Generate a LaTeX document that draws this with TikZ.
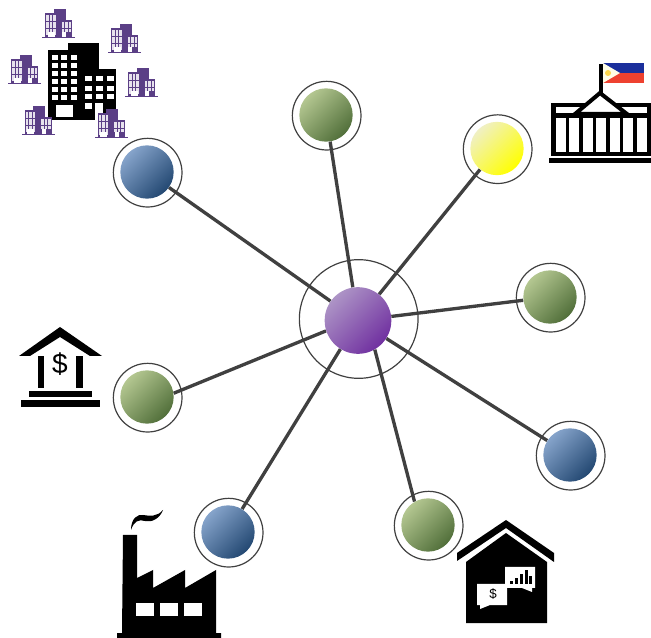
\documentclass[tikz,border=0pt]{standalone}
\usepackage{fontspec}
\setmainfont{Liberation Sans}
\usetikzlibrary{backgrounds}
\definecolor{linegray}{HTML}{404040}
\definecolor{towerpurple}{HTML}{5B3F86}
\definecolor{hublight}{HTML}{AD94C6}
\definecolor{hubdark}{HTML}{7030A0}
\definecolor{bluelight}{HTML}{86A4CB}
\definecolor{bluedark}{HTML}{234872}
\definecolor{greenlight}{HTML}{B4C791}
\definecolor{greendark}{HTML}{516F3A}
\definecolor{yellowlight}{HTML}{F0F0C4}
\definecolor{flagblue}{HTML}{1B2F9C}
\definecolor{flagred}{HTML}{EE4130}
\tikzset{
	hubdisk/.style={circle, inner sep=0pt, minimum size=50pt, top color=hublight, bottom color=hubdark, shading angle=45},
	hubring/.style={circle, inner sep=0pt, minimum size=89pt, draw=linegray, line width=0.9pt},
	peerdisk/.style={circle, inner sep=0pt, minimum size=40pt},
	peerring/.style={circle, inner sep=0pt, minimum size=51.5pt, draw=linegray, line width=0.9pt},
	greendisk/.style={peerdisk, top color=greenlight, bottom color=greendark, shading angle=45},
	bluedisk/.style={peerdisk, top color=bluelight, bottom color=bluedark, shading angle=45},
	yellowdisk/.style={peerdisk, top color=yellowlight, bottom color=yellow, shading angle=45},
	spoke/.style={line width=2.5pt, draw=linegray},
	smalltower/.pic={
		\fill[towerpurple] (-16.5,-1.2) rectangle (16.5,0);
		\fill[towerpurple] (-13.5,-1.2) rectangle (-1,-25);
		\fill[towerpurple] (-5,-1.2) rectangle (7,-29);
		\fill[towerpurple] (1,-1.2) rectangle (13.5,-18);
		\foreach \wx in {-12.5,-9,-5.5}
			\foreach \wy in {-23,-19.5,-16,-12.5,-9,-5.5}
				\fill[white!85!towerpurple] (\wx,\wy) rectangle ++(2.6,2.6);
		\foreach \wx in {3,6.5,10}
			\foreach \wy in {-16,-12.5,-9}
				\fill[white!85!towerpurple] (\wx,\wy) rectangle ++(2.6,2.6);
		\fill[white] (-11,-6) rectangle (-4,-1.2);
		\fill[white] (3.5,-6) rectangle (7.5,-1.2);
	}
}
\begin{document}
\begin{tikzpicture}[x=0.75pt, y=-0.75pt]
	\useasboundingbox (0, 0) rectangle (651, 638);

	%%%%% NETWORK %%%%%
	\node[hubdisk] (hub) at (358, 320.5) {};
	\node[hubring] (hubouter) at (358.7, 319) {};

	\node[bluedisk] (towers) at (147, 172) {};
	\node[greendisk] (citizen) at (326, 115) {};
	\node[yellowdisk] (govt) at (497, 148.5) {};
	\node[greendisk] (peer) at (550, 297) {};
	\node[bluedisk] (store) at (570, 455) {};
	\node[greendisk] (market) at (428, 525) {};
	\node[bluedisk] (plant) at (228, 532) {};
	\node[greendisk] (lender) at (147, 397) {};

	\foreach \peernode in {towers, citizen, govt, peer, store, market, plant, lender} {
		\node[peerring, xshift=0.5pt, yshift=-0.5pt] at (\peernode) {};
	}

	\begin{scope}[on background layer]
		\foreach \peernode in {towers, citizen, govt, peer, store, plant} {
			\draw[spoke] (hub) -- (\peernode);
		}
		\draw[spoke] (hub.-60) -- (market.120);
		\draw[spoke] (hub.198) -- (lender.8);
	\end{scope}

	%%%%% BIG BLOCK %%%%%
	\fill[black] (48, 50) rectangle (79, 120);
	\fill[black] (68, 43) rectangle (99, 69);
	\fill[black] (79, 69) rectangle (116, 120);
	\foreach \wx in {52, 61, 71}
		\foreach \wy in {55, 63, 71, 79, 87, 95}
			\fill[white] (\wx, \wy) rectangle ++(6, 5.5);
	\foreach \wx in {85, 96, 107}
		\foreach \wy in {76, 86, 94}
			\fill[white] (\wx, \wy) rectangle ++(6.5, 5.5);
	\fill[white] (85, 103) rectangle ++(6.5, 6);
	\fill[white] (95, 103) rectangle (103, 120);
	\fill[white] (56, 105) rectangle (73, 117);

	\pic at (58.5, 38) {smalltower};
	\pic at (124.5, 53) {smalltower};
	\pic at (24.5, 84) {smalltower};
	\pic at (141.5, 97) {smalltower};
	\pic at (38, 135) {smalltower};
	\pic at (111, 138) {smalltower};

	%%%%% CONGRESS %%%%%
	\fill[flagblue] (603, 63) rectangle (644, 73);
	\fill[flagred] (603, 73) rectangle (644, 83);
	\fill[white!90!yellow] (603, 63) -- (620, 73) -- (603, 83) -- cycle;
	\fill[yellow!60!orange!70!white] (608, 73) circle (3);
	\fill[black] (599, 64) rectangle (603, 94);
	\fill[black] (551, 103) rectangle (651, 156);
	\fill[white] (556, 107) rectangle (647, 113);
	\foreach \gx in {556, 569, 583, 596, 610, 623, 637}
		\fill[white] (\gx, 118) rectangle ++(9.5, 34);
	\draw[line width=3pt, fill=white] (575, 114) -- (600, 93) -- (627, 114) -- cycle;
	\fill[black] (549, 158) rectangle (651, 163);

	%%%%% BANK %%%%%
	\fill[black] (19, 356) -- (60, 327) -- (102, 356) -- (90, 356) -- (60, 337) -- (30, 356) -- cycle;
	\fill[black] (38, 356) rectangle (44, 388);
	\fill[black] (76, 356) rectangle (83, 388);
	\fill[black] (29, 391) rectangle (92, 397);
	\fill[black] (21, 400) rectangle (100, 407);
	\node[inner sep=0pt, font=\fontsize{21}{21}\selectfont] (banksign) at (60, 364.5) {\$};

	%%%%% FACTORY %%%%%
	\fill[black] (123, 535) -- (137, 535) -- (137, 578) -- (153, 570) -- (153, 588) -- (185, 570) -- (185, 588) -- (216, 570) -- (216, 633) -- (221, 633) -- (221, 638) -- (117, 638) -- (117, 633) -- (122, 633) -- cycle;
	\foreach \gx in {136, 160, 184}
		\fill[white] (\gx, 603) rectangle ++(18, 13);
	\fill[black] (131, 530) .. controls (131, 518) and (138, 514) .. (143, 515) .. controls (150, 516) and (157, 517) .. (163, 510) .. controls (160, 518) and (152, 523) .. (145, 521) .. controls (139, 519) and (134, 521) .. (131, 530) -- cycle;

	%%%%% STORE %%%%%
	\fill[black] (457, 553) -- (506, 520) -- (554, 553) -- (554, 562) -- (506, 528) -- (457, 561) -- cycle;
	\fill[black] (466, 562) -- (506, 533) -- (547, 562) -- (547, 623) -- (466, 623) -- cycle;
	\fill[white] (505, 567) -- (535, 567) -- (535, 588) -- (532, 588) -- (532, 592) -- (522, 588) -- (505, 588) -- cycle;
	\fill[white] (477, 584) -- (507, 584) -- (507, 605) -- (490, 605) -- (480, 609) -- (480, 605) -- (477, 605) -- cycle;
	\foreach \bx/\bt in {510/581, 515/578, 520/574, 525/570, 529/576}
		\fill[black] (\bx, \bt) rectangle (\bx + 2.6, 584);
	\node[inner sep=0pt, font=\fontsize{10}{10}\selectfont] (storesign) at (493, 594.5) {\$};
\end{tikzpicture}
\end{document}
